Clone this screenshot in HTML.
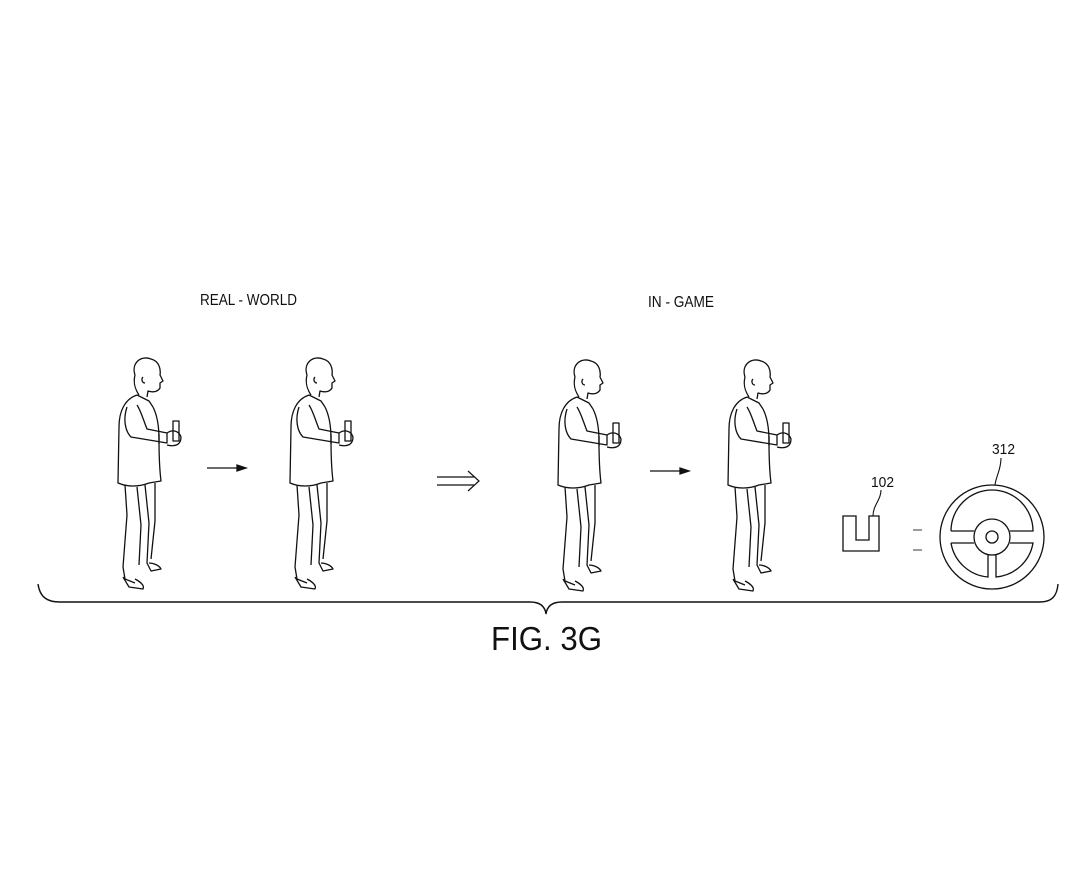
<!DOCTYPE html>
<html><head><style>
html,body{margin:0;padding:0;background:#fff;}
svg{display:block;}
text{font-family:"Liberation Sans",sans-serif;fill:#111;}
</style></head><body>
<svg width="1083" height="876" viewBox="0 0 1083 876" xmlns="http://www.w3.org/2000/svg">
<defs>
<g id="p" fill="none" stroke="#111" stroke-width="1.3" stroke-linejoin="round">
  <path d="M20 20 C16 8 26 0 36 4 C44 6 46 14 45 20 L48 26 L45 28 L45 33 C42 38 36 37 33 36 L32 42"/>
  <path d="M20 20 C18 28 20 34 24 40"/>
  <path d="M28 22 C26 24 27 28 30 28"/>
  <path d="M22 40 L34 46 L38 52"/>
  <path d="M22 40 C10 44 4 56 4 72 L3 128 C12 132 24 132 34 128 L46 126 C44 110 44 96 44 84"/>
  <path d="M38 52 C42 60 44 70 44 84"/>
  <path d="M12 52 C8 64 10 76 16 82 L52 88 L52 78 L32 74 C28 64 26 56 22 50"/>
  <path d="M44 79 L44 89"/>
  <path d="M52 78 C58 74 64 76 66 82 C66 90 60 92 52 90"/>
  <rect x="58" y="66" width="6" height="20"/>
  <path d="M10 130 L12 160 L8 212 L10 224 L20 228"/>
  <path d="M22 132 L26 170 L24 210"/>
  <path d="M30 130 L34 168 L32 208 L36 216 L46 214 C44 210 38 208 34 208"/>
  <path d="M40 128 L40 166 L36 204"/>
  <path d="M8 222 L14 232 L28 234 C30 230 24 226 20 224"/>
</g>
</defs>

<text x="200" y="305" font-size="16" textLength="97" lengthAdjust="spacingAndGlyphs">REAL - WORLD</text>
<text x="648" y="307" font-size="16" textLength="66" lengthAdjust="spacingAndGlyphs">IN - GAME</text>

<use href="#p" x="115" y="355"/>
<use href="#p" x="287" y="355"/>
<use href="#p" x="555" y="357"/>
<use href="#p" x="725" y="357"/>

<g stroke="#111" stroke-width="1.3" fill="#111">
  <line x1="207" y1="468" x2="238" y2="468"/>
  <path d="M246 468 L237 465 L237 471 Z"/>
  <line x1="650" y1="471" x2="681" y2="471"/>
  <path d="M689 471 L680 468 L680 474 Z"/>
</g>
<g stroke="#111" stroke-width="1.2" fill="none">
  <line x1="437" y1="477" x2="474" y2="477"/>
  <line x1="437" y1="485" x2="474" y2="485"/>
  <path d="M468 471 L479 481 L468 491"/>
</g>

<path d="M843 516 L856 516 L856 540 L869 540 L869 516 L879 516 L879 551 L843 551 Z" fill="none" stroke="#111" stroke-width="1.3"/>
<path d="M873 516 C873 505 881 500 881 490" fill="none" stroke="#111" stroke-width="1.1"/>
<text x="871" y="487" font-size="15" textLength="23" lengthAdjust="spacingAndGlyphs">102</text>
<line x1="913" y1="530" x2="922" y2="530" stroke="#666" stroke-width="1.3"/>
<line x1="913" y1="550" x2="922" y2="550" stroke="#666" stroke-width="1.3"/>

<g fill="none" stroke="#111" stroke-width="1.3">
  <circle cx="992" cy="537" r="52"/>
  <path d="M951 531 A41 41 0 0 1 1033 531 L1010 531"/>
  <path d="M974 531 L951 531"/>
  <path d="M951 543 L974 543"/>
  <path d="M1010 543 L1033 543 A41 41 0 0 1 996 577 L996 554"/>
  <path d="M988 554 L988 577 A41 41 0 0 1 951 543"/>
  <circle cx="992" cy="537" r="18"/>
  <circle cx="992" cy="537" r="6"/>
  <path d="M1001 458 C1001 470 996 476 995 485" stroke-width="1.1"/>
</g>
<text x="992" y="454" font-size="15" textLength="23" lengthAdjust="spacingAndGlyphs">312</text>

<path d="M38 584 C40 598 48 602 60 602 L530 602 C540 602 545 606 546 614 C547 606 552 602 562 602 L1040 602 C1052 602 1057 596 1058 584" fill="none" stroke="#111" stroke-width="1.4"/>

<text x="491" y="650" font-size="33" textLength="111" lengthAdjust="spacingAndGlyphs">FIG. 3G</text>
</svg>
</body></html>
